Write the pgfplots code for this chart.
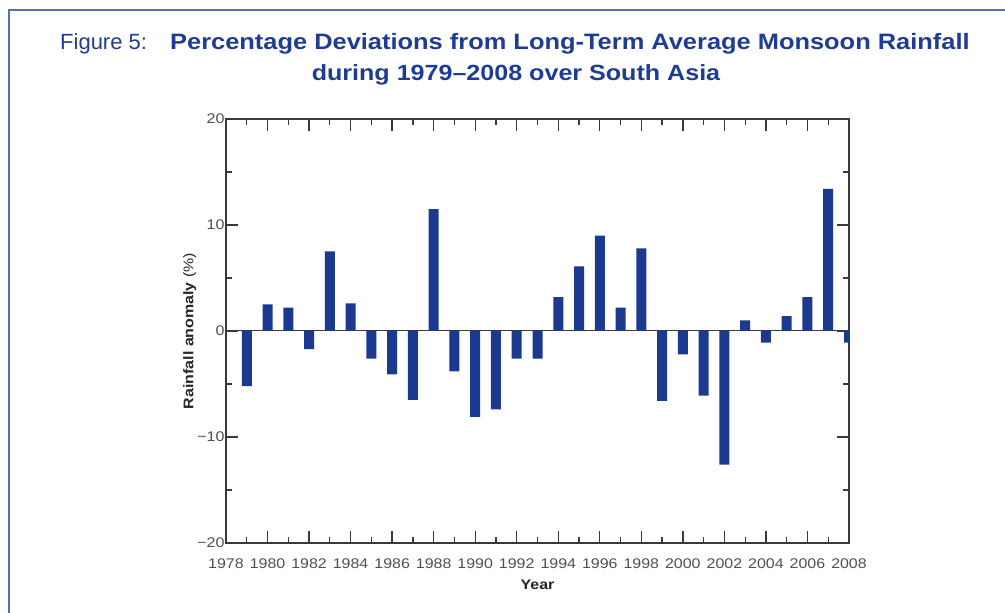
\documentclass[border=0pt]{standalone}
\usepackage{pgfplots}
\pgfplotsset{compat=1.18}
\usepackage{fontspec}
\setmainfont{Liberation Sans}
\newfontfamily\widesans[FakeStretch=1.14]{Liberation Sans}

\definecolor{titleblue}{HTML}{1F3C94}
\definecolor{barblue}{HTML}{1B3A8F}
\definecolor{framecol}{HTML}{5570B0}
\definecolor{axisgray}{HTML}{3A3A3A}
\definecolor{labgray}{HTML}{505050}

\begin{document}
\begin{tikzpicture}[x=1pt,y=1pt]
\path[use as bounding box] (0,0) rectangle (1005,613);
% frame (only left and top edges are inside the picture)
\draw[framecol, line width=1.5pt] (9,-5) -- (9,603) -- (1010,603);

% title
\node[anchor=base west, text=titleblue, font=\fontsize{22}{26}\selectfont, inner sep=0pt] at (60,563) {Figure 5:};
\node[anchor=base west, text=titleblue, font=\widesans\fontsize{22.3}{26}\selectfont\bfseries, inner sep=0pt] at (170,563) {Percentage Deviations from Long-Term Average Monsoon Rainfall};
\node[anchor=base, text=titleblue, font=\widesans\fontsize{22}{26}\selectfont\bfseries, inner sep=0pt] at (516,532) {during 1979–2008 over South Asia};

\begin{axis}[
    at={(226pt,70pt)}, anchor=south west,
    width=623pt, height=424pt, scale only axis,
    xmin=1978, xmax=2008, ymin=-20, ymax=20,
    ybar, bar width=10pt,
    axis line style={axisgray, line width=1.2pt},
    every tick/.style={axisgray, line width=1.3pt},
    tick align=inside,
    major tick length=12pt, minor tick length=6pt,
    xtick={1978,1980,...,2008},
    minor xtick={1979,1981,...,2007},
    ytick={-20,-10,0,10,20},
    yticklabels={−20,−10,0,10,20},
    minor ytick={-15,-5,5,15},
    xticklabel style={/pgf/number format/1000 sep=, text=labgray, font=\widesans\fontsize{14}{16}\selectfont, yshift=-12pt},
    yticklabel style={text=labgray, font=\widesans\fontsize{14}{16}\selectfont, xshift=2pt},
    /pgf/number format/assume math mode=true,
    extra y ticks={0}, extra y tick labels={},
    extra y tick style={grid=major, major grid style={axisgray, line width=1pt}},
    xlabel={\textbf{Year}},
    xlabel style={at={(axis description cs:0.5,-0.099)}, anchor=center, text=black!85, font=\widesans\fontsize{14}{16}\selectfont},
    ylabel={\textbf{Rainfall anomaly} (\%)},
    ylabel style={at={(axis description cs:-0.058,0.5)}, anchor=center, text=black!85, font=\widesans\fontsize{14}{16}\selectfont},
]
\addplot[fill=barblue, draw=none] coordinates {
    (1979,-5.2) (1980,2.5) (1981,2.2) (1982,-1.7) (1983,7.5)
    (1984,2.6) (1985,-2.6) (1986,-4.1) (1987,-6.5) (1988,11.5)
    (1989,-3.8) (1990,-8.1) (1991,-7.4) (1992,-2.6) (1993,-2.6)
    (1994,3.2) (1995,6.1) (1996,9.0) (1997,2.2) (1998,7.8)
    (1999,-6.6) (2000,-2.2) (2001,-6.1) (2002,-12.6) (2003,1.0)
    (2004,-1.1) (2005,1.4) (2006,3.2) (2007,13.4) (2008,-1.1)
};
\end{axis}
\end{tikzpicture}
\end{document}
